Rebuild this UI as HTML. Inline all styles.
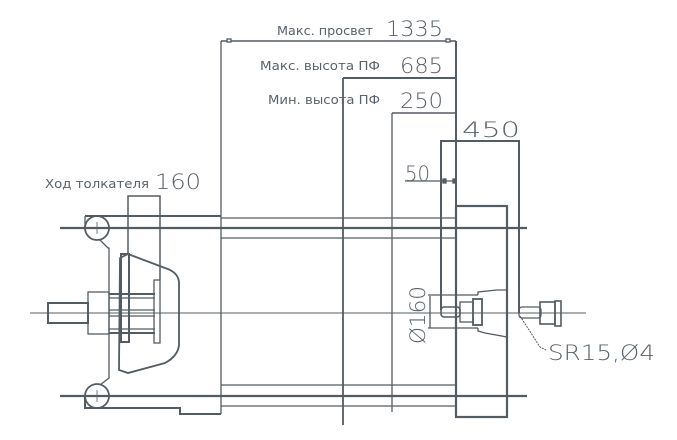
<!DOCTYPE html>
<html><head><meta charset="utf-8"><style>
html,body{margin:0;padding:0;background:#fff;}
svg{display:block;}
text{font-family:"DejaVu Sans","Liberation Sans",sans-serif;fill:#59626a;}
</style></head><body>
<svg width="677" height="440" viewBox="0 0 677 440" xmlns="http://www.w3.org/2000/svg">
<g stroke="#535c62" fill="none" stroke-width="1.3">
<!-- dimension lines top -->
<line x1="221" y1="41" x2="456" y2="41" stroke-width="1.5"/>
<line x1="221" y1="41" x2="221" y2="414"/>
<line x1="456" y1="41" x2="456" y2="206" stroke-width="2"/>
<line x1="343" y1="78" x2="456" y2="78" stroke-width="2"/>
<line x1="343" y1="78" x2="343" y2="425" stroke-width="1.8"/>
<line x1="392" y1="113" x2="456" y2="113" stroke-width="1.5"/>
<line x1="392" y1="113" x2="392" y2="412"/>
<line x1="405" y1="181" x2="456" y2="181"/>
<rect x="443" y="179" width="3" height="4" fill="#535c62"/>
<rect x="453" y="179" width="3" height="4" fill="#535c62"/>
<rect x="227" y="39" width="4" height="3" fill="#fff"/>
<rect x="446" y="39" width="4" height="3" fill="#fff"/>
<!-- 450 box -->
<path d="M441,310 L441,141 L519,141 L519,313" stroke-width="2"/>
<!-- plate -->
<rect x="456" y="206" width="51" height="211" stroke-width="2.2"/>
<!-- horizontal lines -->
<line x1="60" y1="228" x2="527" y2="228" stroke-width="2.2"/>
<line x1="60" y1="396" x2="527" y2="396" stroke-width="2.2"/>
<line x1="85" y1="216" x2="221" y2="216" stroke-width="2"/>
<line x1="221" y1="218" x2="456" y2="218"/>
<line x1="221" y1="238" x2="456" y2="238"/>
<line x1="221" y1="385" x2="456" y2="385"/>
<line x1="221" y1="406" x2="456" y2="406"/>
<line x1="30" y1="313" x2="586" y2="313" stroke-width="1"/>
<!-- left body -->
<circle cx="97" cy="228" r="12" stroke-width="1.8"/>
<circle cx="97" cy="396" r="12" stroke-width="1.8"/>
<line x1="97" y1="222" x2="97" y2="234" stroke-width="0.8"/>
<line x1="97" y1="390" x2="97" y2="402" stroke-width="0.8"/>
<path d="M85,216 L85,228"/>
<path d="M100,240 L108,248 L109,248 L109,378 L100,385"/>
<path d="M85,396 L85,408 L180,408 L180,414 L221,414" stroke-width="2"/>
<rect x="48" y="303" width="40" height="20" stroke-width="2"/>
<rect x="88" y="292" width="21" height="42"/>
<line x1="109" y1="294" x2="155" y2="294" stroke-width="2"/>
<line x1="109" y1="298" x2="155" y2="298"/>
<line x1="109" y1="310" x2="155" y2="310"/>
<line x1="109" y1="316" x2="155" y2="316"/>
<line x1="109" y1="329" x2="155" y2="329"/>
<line x1="109" y1="333" x2="155" y2="333" stroke-width="2"/>
<rect x="121" y="254" width="8" height="88" stroke-width="2"/>
<rect x="154" y="280" width="6" height="63"/>
<path d="M128,254 L120,258 L119,370 L128,373 L165,363 Q178,356 179,345 L179,282 Q178,272 165,268 Z" stroke-width="1.8"/>
<path d="M128,254 L128,196 L160,196 L160,280" stroke-width="1.5"/>
<!-- right center parts -->
<line x1="430" y1="296" x2="430" y2="328"/>
<line x1="428" y1="295" x2="478" y2="295"/>
<line x1="428" y1="328" x2="478" y2="328"/>
<rect x="441" y="307" width="19" height="10" rx="3" stroke-width="1.6"/>
<rect x="460" y="302" width="13" height="20"/>
<rect x="473" y="299" width="9" height="26" stroke-width="1.8"/>
<path d="M478,295 L478,292 L497,290 L507,290"/>
<path d="M478,328 L478,331 L485,333 L507,337"/>
<!-- right pin -->
<rect x="519" y="307" width="22" height="11" rx="3"/>
<rect x="540" y="302" width="15" height="22" stroke-width="1.6"/>
<rect x="555" y="301" width="6" height="25" stroke-width="1.6"/>
<path d="M520,316 L540,347 L546,350" stroke-width="1" stroke-dasharray="2,1"/>
</g>
<g font-size="12">
<text x="277" y="35" textLength="96" lengthAdjust="spacingAndGlyphs">Макс. просвет</text>
<text x="260" y="70" textLength="120" lengthAdjust="spacingAndGlyphs">Макс. высота ПФ</text>
<text x="268" y="104" textLength="112" lengthAdjust="spacingAndGlyphs">Мин. высота ПФ</text>
<text x="45" y="188" textLength="104" lengthAdjust="spacingAndGlyphs">Ход толкателя</text>
</g>
<g font-size="21" font-weight="200">
<text x="386" y="36" textLength="57" lengthAdjust="spacingAndGlyphs">1335</text>
<text x="400" y="73" textLength="43" lengthAdjust="spacingAndGlyphs">685</text>
<text x="400" y="108" textLength="43" lengthAdjust="spacingAndGlyphs">250</text>
<text x="462" y="137" textLength="58" lengthAdjust="spacingAndGlyphs">450</text>
<text x="405" y="181" textLength="25" lengthAdjust="spacingAndGlyphs">50</text>
<text x="155" y="189" textLength="46" lengthAdjust="spacingAndGlyphs">160</text>
<text x="548" y="360" textLength="107" lengthAdjust="spacingAndGlyphs">SR15,Ø4</text>
<text transform="translate(425,344) rotate(-90)" textLength="58" lengthAdjust="spacingAndGlyphs">Ø160</text>
</g>
</svg>
</body></html>
